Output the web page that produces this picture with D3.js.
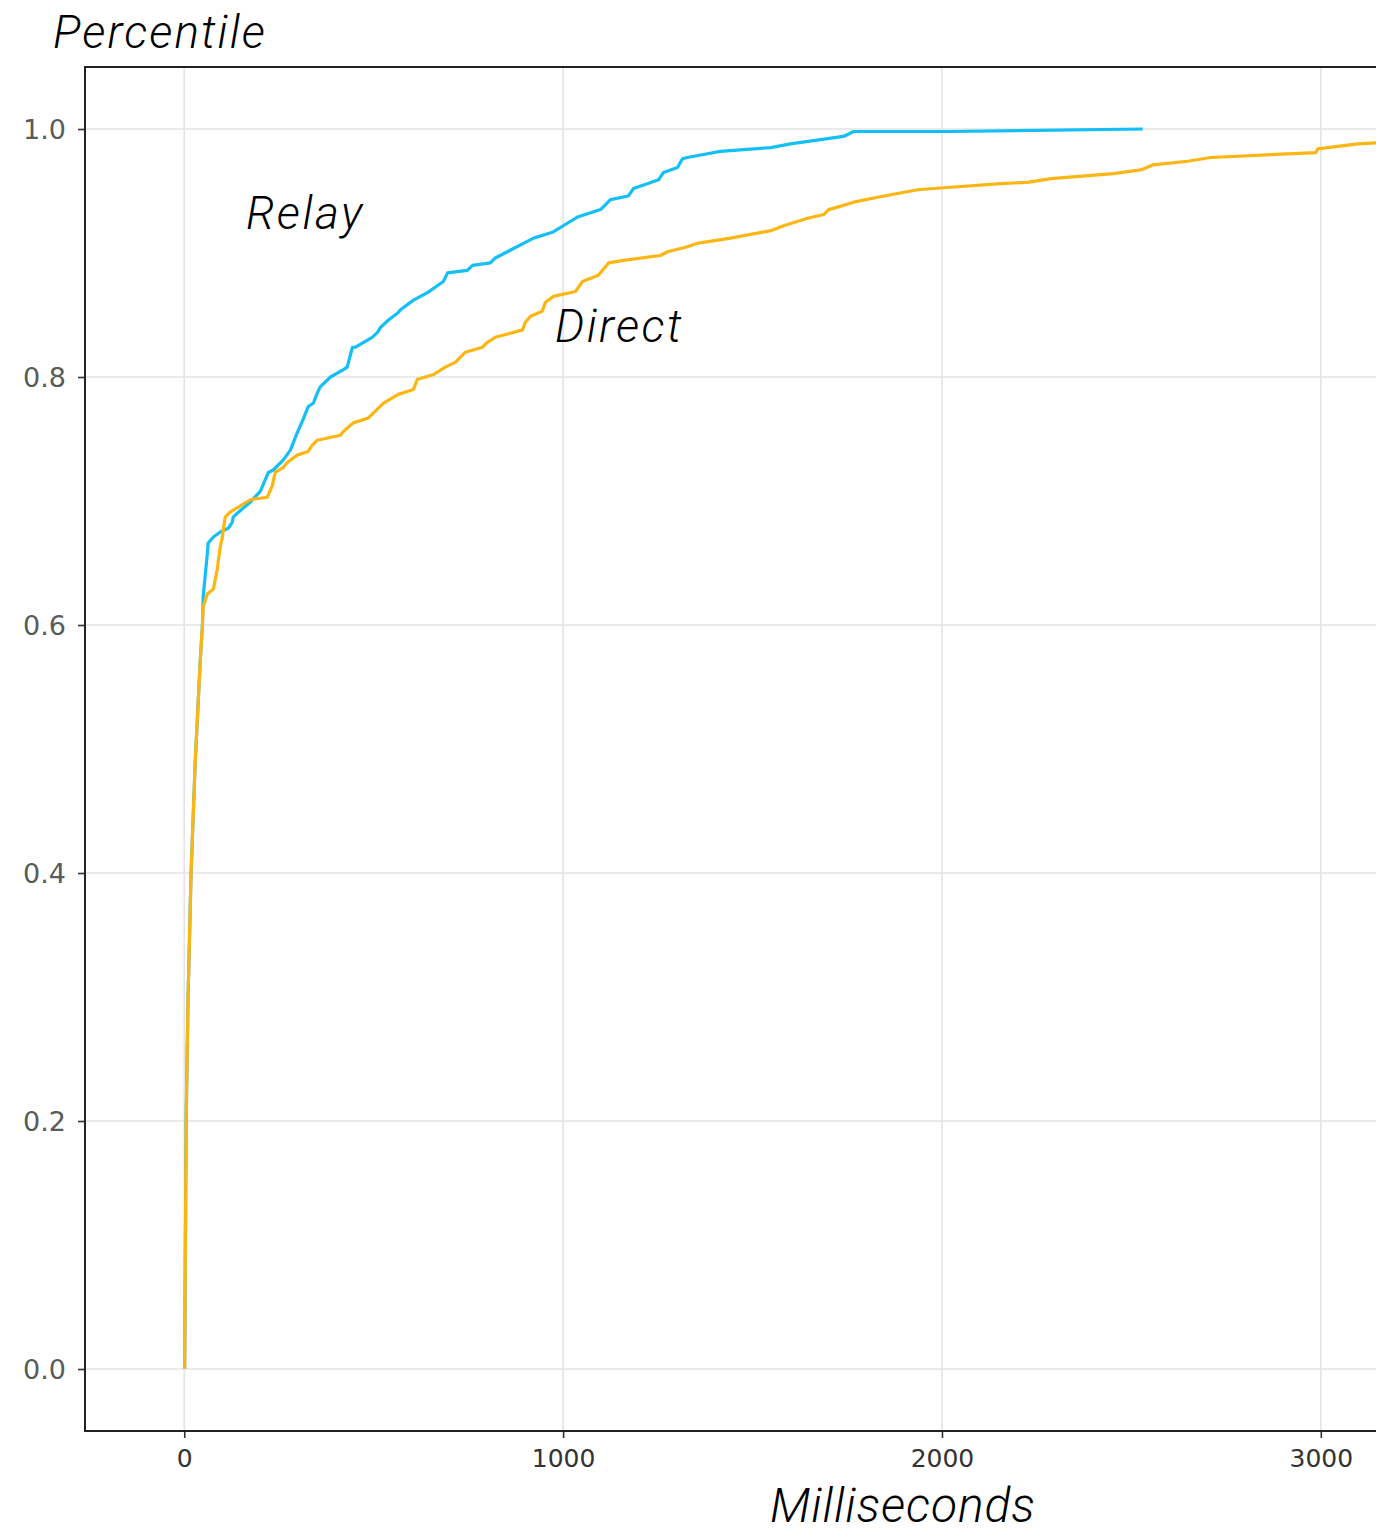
<!DOCTYPE html>
<html>
<head>
<meta charset="utf-8">
<script src="https://cdn.jsdelivr.net/npm/d3@7"></script>
<style>
  html, body { margin: 0; padding: 0; background: #ffffff; }
  svg { display: block; }
</style>
</head>
<body>
<svg id="chart" width="1376" height="1535"></svg>
<script>
// ---- data (milliseconds, percentile) ----
const relayMs = [1, 5, 10, 18, 29, 42, 48, 50, 55, 61, 63, 77, 95, 116, 127, 129, 143, 174, 201, 222, 235, 261, 280, 298, 314, 327, 341, 351, 359, 386, 420, 430, 444, 452, 496, 510, 518, 539, 565, 570, 605, 642, 684, 695, 747, 761, 808, 821, 922, 974, 1011, 1038, 1099, 1125, 1172, 1186, 1252, 1265, 1302, 1315, 1328, 1381, 1415, 1548, 1600, 1740, 1767, 2023, 2530];
const relayPct = [0, 0.2, 0.3, 0.4, 0.49, 0.57, 0.6, 0.623, 0.639, 0.658, 0.666, 0.671, 0.675, 0.678, 0.683, 0.687, 0.691, 0.699, 0.708, 0.723, 0.725, 0.733, 0.741, 0.755, 0.766, 0.776, 0.779, 0.787, 0.792, 0.800, 0.806, 0.808, 0.824, 0.824, 0.832, 0.836, 0.840, 0.846, 0.852, 0.854, 0.862, 0.868, 0.877, 0.884, 0.886, 0.890, 0.892, 0.896, 0.912, 0.917, 0.924, 0.929, 0.935, 0.943, 0.946, 0.952, 0.959, 0.965, 0.969, 0.976, 0.977, 0.980, 0.982, 0.985, 0.988, 0.994, 0.998, 0.998, 1.000];

const directMs = [1, 5, 10, 18, 29, 42, 48, 50, 61, 77, 87, 95, 100, 108, 121, 174, 219, 232, 240, 261, 272, 298, 327, 338, 351, 412, 420, 446, 486, 526, 565, 605, 615, 658, 689, 716, 742, 787, 800, 821, 893, 900, 914, 945, 953, 974, 1033, 1051, 1093, 1120, 1159, 1257, 1276, 1328, 1357, 1442, 1548, 1582, 1645, 1688, 1701, 1724, 1767, 1830, 1936, 1978, 2155, 2226, 2287, 2453, 2525, 2556, 2649, 2709, 2987, 2992, 3098, 3160, 3250];
const directPct = [0, 0.2, 0.3, 0.4, 0.49, 0.57, 0.6, 0.615, 0.625, 0.629, 0.645, 0.663, 0.670, 0.687, 0.691, 0.701, 0.703, 0.712, 0.723, 0.727, 0.731, 0.737, 0.740, 0.745, 0.749, 0.753, 0.756, 0.763, 0.767, 0.779, 0.786, 0.790, 0.798, 0.802, 0.808, 0.812, 0.820, 0.824, 0.828, 0.832, 0.838, 0.844, 0.849, 0.853, 0.860, 0.865, 0.869, 0.877, 0.882, 0.892, 0.894, 0.898, 0.901, 0.905, 0.908, 0.912, 0.918, 0.922, 0.928, 0.931, 0.935, 0.937, 0.941, 0.945, 0.951, 0.952, 0.956, 0.957, 0.960, 0.964, 0.967, 0.971, 0.974, 0.977, 0.981, 0.984, 0.988, 0.989, 0.990];

const xTicks = [0, 1000, 2000, 3000];
const yTicks = [0.0, 0.2, 0.4, 0.6, 0.8, 1.0];
const seriesNames = ["Relay", "Direct"];
const seriesColors = ["#13bff6", "#fbb614"];

// ---- layout ----
const svg = d3.select("#chart");
const mLeft = 85, mTop = 67, mRight = 1400, mBottom = 1431;

const x = d3.scaleLinear().domain([-262, 3209]).range([mLeft, mRight]);
const y = d3.scaleLinear().domain([-0.05, 1.05]).range([mBottom, mTop]);

svg.append("defs").append("clipPath").attr("id", "plotclip")
  .append("rect").attr("x", mLeft).attr("y", mTop).attr("width", mRight - mLeft).attr("height", mBottom - mTop);

// grid
const grid = svg.append("g");
grid.selectAll(".vg").data(xTicks).join("line")
  .attr("x1", d => x(d)).attr("x2", d => x(d)).attr("y1", mTop).attr("y2", mBottom)
  .attr("stroke", "#e4e4e4").attr("stroke-width", 1.6);
grid.selectAll(".hg").data(yTicks).join("line")
  .attr("x1", mLeft).attr("x2", mRight).attr("y1", d => y(d)).attr("y2", d => y(d))
  .attr("stroke", "#e4e4e4").attr("stroke-width", 1.6);

// lines
const lineGen = d3.line().x(d => x(d[0])).y(d => y(d[1])).curve(d3.curveLinear);
const relay = relayMs.map((m, i) => [m, relayPct[i]]);
const direct = directMs.map((m, i) => [m, directPct[i]]);
const plot = svg.append("g").attr("clip-path", "url(#plotclip)");
plot.append("path").datum(relay).attr("d", lineGen)
  .attr("fill", "none").attr("stroke", seriesColors[0]).attr("stroke-width", 3.2)
  .attr("stroke-linejoin", "round");
plot.append("path").datum(direct).attr("d", lineGen)
  .attr("fill", "none").attr("stroke", seriesColors[1]).attr("stroke-width", 3.2)
  .attr("stroke-linejoin", "round");

// axes
const xAxis = d3.axisBottom(x).tickValues(xTicks).tickFormat(d3.format("d")).tickSize(7).tickPadding(11);
const yAxis = d3.axisLeft(y).tickValues(yTicks).tickFormat(d3.format(".1f")).tickSize(7).tickPadding(12);

const gx = svg.append("g").attr("transform", `translate(0,${mBottom})`).call(xAxis);
gx.select(".domain").remove();
gx.selectAll(".tick line").attr("stroke", "#333").attr("stroke-width", 1.6);
gx.selectAll(".tick text").attr("fill", "#333").attr("font-family", "DejaVu Sans").attr("font-size", 25);

const gy = svg.append("g").attr("transform", `translate(${mLeft},0)`).call(yAxis);
gy.select(".domain").remove();
gy.selectAll(".tick line").attr("stroke", "#333").attr("stroke-width", 1.6);
gy.selectAll(".tick text").attr("fill", "#5a5a5a").attr("font-family", "DejaVu Sans").attr("font-size", 27).attr("dy", "0.36em");

// frame (left, top, bottom; right edge is off canvas)
svg.append("rect").attr("x", mLeft).attr("y", mTop).attr("width", mRight - mLeft).attr("height", mBottom - mTop)
  .attr("fill", "none").attr("stroke", "#222").attr("stroke-width", 2);

// labels
const labFont = "Roboto, 'Open Sans', sans-serif";
function lab(txt, xx, yy, size, ls) {
  svg.append("text").attr("x", xx).attr("y", yy).text(txt)
    .attr("font-family", labFont).attr("font-style", "italic").attr("font-weight", 300)
    .attr("font-size", size).attr("letter-spacing", ls).attr("fill", "#000");
}
lab("Percentile", 53, 48, 46, 2.1);
lab("Milliseconds", 770, 1522, 48, 0.9);
lab(seriesNames[0], 246, 229, 46, 2.5);
lab(seriesNames[1], 555, 342, 46, 2.4);
</script>
</body>
</html>
